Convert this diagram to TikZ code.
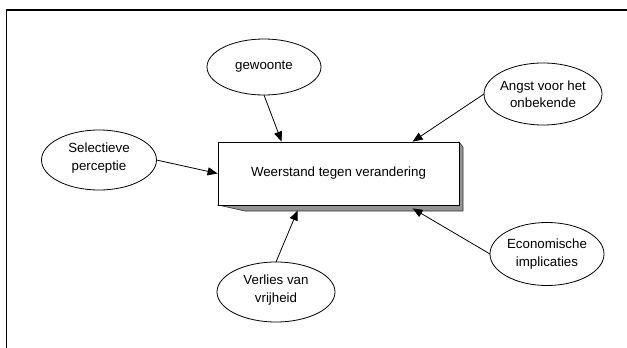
\documentclass[tikz,border=0pt]{standalone}
\usepackage{fontspec}
\setmainfont{Liberation Sans}
\usetikzlibrary{shapes.geometric,arrows.meta}
\begin{document}
\begin{tikzpicture}[x=1pt,y=-1pt,
  bubble/.style={draw=black, line width=0.8pt, ellipse, inner sep=0pt, outer sep=0pt},
  caption/.style={align=center, font=\fontsize{13.3}{17.5}\selectfont, inner sep=0pt},
  link/.style={draw=black, line width=0.8pt, -{Triangle[length=10pt,width=8pt]}},
]
\useasboundingbox (0,0) rectangle (627,348);

% page frame: heavy top rule, thin left rule
\draw[line width=2pt] (6,10) -- (627,10);
\draw[line width=1pt] (6,10) -- (6,348);

% raised box with its grey side faces
\filldraw[fill=gray!85, draw=black!80, line width=0.6pt]
  (218,205) -- (245,211) -- (463,211) -- (463,147) -- (459,142) -- cycle;
\node[draw=black, fill=white, line width=0.8pt, minimum width=241pt,
      minimum height=63pt, inner sep=0pt, caption] (box) at (338.5,173.5)
  {Weerstand tegen verandering};

% causes
\node[bubble, minimum width=114pt, minimum height=56pt] (gew) at (264,67) {};
\node[caption] (gewt) at (gew) {gewoonte};

\node[bubble, minimum width=118pt, minimum height=62pt] (angst) at (543,94) {};
\node[caption] (angstt) at (angst) {Angst voor het\\onbekende};

\node[bubble, minimum width=115pt, minimum height=60pt] (sel) at (99,160) {};
\node[caption] (selt) at ([yshift=2pt]sel.center) {Selectieve\\perceptie};

\node[bubble, minimum width=118pt, minimum height=60pt] (verl) at (276,292) {};
\node[caption] (verlt) at ([yshift=2pt]verl.center) {Verlies van\\vrijheid};

\node[bubble, minimum width=114pt, minimum height=63pt] (econ) at (547,254) {};
\node[caption] (econt) at (econ) {Economische\\implicaties};

% arrows into the box
\draw[link] (gew.south) -- ([xshift=64pt]box.north west);
\draw[link] (angst.west) -- ([xshift=195pt]box.north west);
\draw[link] (sel.east) -- (box.west);
\draw[link] (verl.north) -- ([xshift=80pt,yshift=-5pt]box.south west);
\draw[link] (econ.west) -- ([xshift=195pt,yshift=-3pt]box.south west);
\end{tikzpicture}
\end{document}
